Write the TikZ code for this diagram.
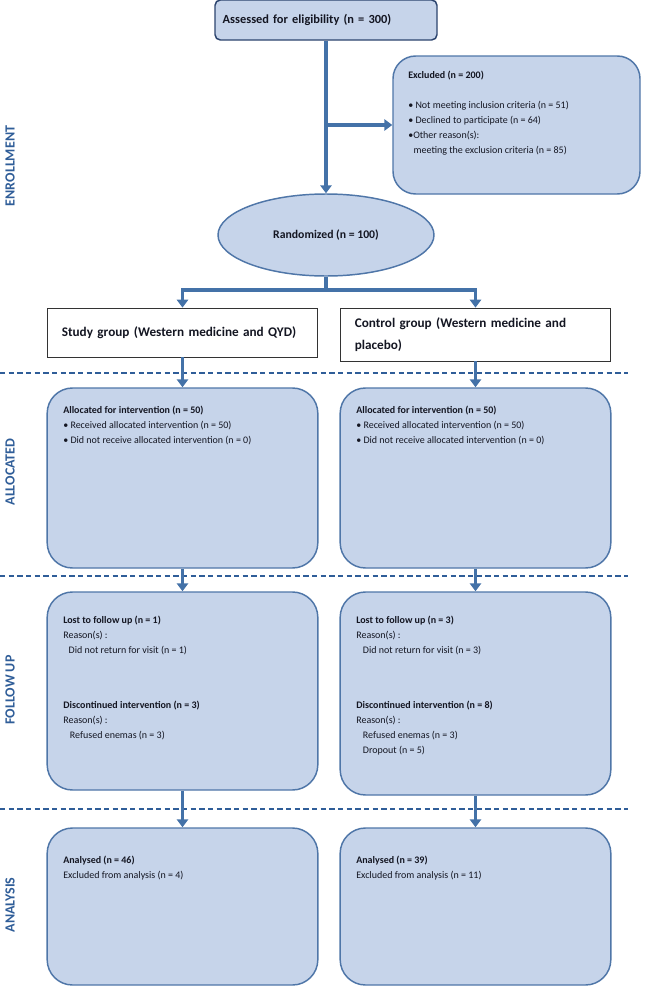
\documentclass[tikz,border=0pt]{standalone}
\usepackage{fontspec}
\setmainfont{Carlito}
\usetikzlibrary{arrows.meta,shapes.geometric}
\definecolor{boxfill}{RGB}{198,212,234}
\definecolor{boxdraw}{RGB}{79,118,168}
\definecolor{topdraw}{RGB}{44,68,110}
\definecolor{arrowblue}{RGB}{68,114,168}
\definecolor{labelblue}{RGB}{47,93,152}
\definecolor{inktext}{RGB}{20,22,34}
\tikzset{
  phasebox/.style={draw=boxdraw, fill=boxfill, line width=1.1pt, rounded corners=19pt, minimum width=203pt, inner sep=0pt},
  groupbox/.style={draw=black!80, fill=white, line width=0.6pt, minimum width=203pt, text width=181pt, inner xsep=11pt, align=left, text=inktext, font=\fontsize{9.9}{17}\selectfont\bfseries},
  boxtext/.style={anchor=north west, align=left, inner sep=0pt, text=inktext, font=\fontsize{7.5}{11.25}\selectfont},
  flowline/.style={draw=arrowblue, line width=2.4pt},
  flowarrow/.style={flowline, -{Triangle[width=8.5pt,length=6pt]}},
  sepline/.style={draw=labelblue, line width=0.8pt, dash pattern=on 4pt off 2.5pt},
  phaselabel/.style={rotate=90, text=labelblue, font=\fontsize{10.5}{12}\selectfont\bfseries}
}
\begin{document}
\begin{tikzpicture}[x=0.75pt,y=0.75pt,yscale=-1,xscale=1]
\useasboundingbox (0,0) rectangle (645,992);

%Phase labels
\node[phaselabel] (lenrol) at (10,166) {ENROLLMENT};
\node[phaselabel] (lalloc) at (10,472) {ALLOCATED};
\node[phaselabel] (lfollow) at (10,690) {FOLLOW UP};
\node[phaselabel] (lanal) at (10,905) {ANALYSIS};

%Separators
\draw[sepline] (0,373) -- (628,373);
\draw[sepline] (0,576) -- (628,576);
\draw[sepline] (0,809) -- (628,809);

%Enrollment
\node[draw=topdraw, fill=boxfill, line width=1.1pt, rounded corners=4pt, minimum width=166.5pt, minimum height=30pt, text width=155pt, inner xsep=5.5pt, align=left, text=inktext, font=\fontsize{9.3}{10}\selectfont\bfseries] (assess) at (326,20) {Assessed for eligibility (n = 300)};
\node[phasebox, minimum width=185.25pt, minimum height=103.5pt, rounded corners=17pt] (excl) at (516.5,125) {};
\node[boxtext] (exclt) at (408,71) {\textbf{Excluded (n = 200)}\\[11pt]
  • Not meeting inclusion criteria (n = 51)\\
  • Declined to participate (n = 64)\\
  •Other reason(s):\\
  \hspace*{4pt}meeting the exclusion criteria (n = 85)};
\node[ellipse, draw=boxdraw, fill=boxfill, line width=1.1pt, minimum width=162pt, minimum height=61.5pt, text=inktext, font=\fontsize{8.8}{10}\selectfont\bfseries] (rand) at (326,235) {Randomized (n = 100)};

\coordinate (split) at (326,125);
\coordinate (fork) at (326,290);
\draw[flowarrow] (assess) -- (rand);
\draw[flowarrow] (split) -- (excl);
\draw[flowline] (rand) -- (fork);

%Groups
\node[groupbox, minimum height=36.75pt] (study) at (182.5,332.5) {Study group (Western medicine and QYD)};
\node[groupbox, minimum height=39.75pt] (control) at (475.5,334.5) {Control group (Western medicine and\\ placebo)};
\draw[flowarrow] (fork) -| (study);
\draw[flowarrow] (fork) -| (control);

%Allocated
\node[phasebox, minimum height=135pt] (alloc1) at (182.5,478) {};
\node[phasebox, minimum height=135pt] (alloc2) at (475.5,478) {};
\node[boxtext] (alloc1t) at (63,406) {\textbf{Allocated for intervention (n = 50)}\\
  • Received allocated intervention (n = 50)\\
  • Did not receive allocated intervention (n = 0)};
\node[boxtext] (alloc2t) at (356,406) {\textbf{Allocated for intervention (n = 50)}\\
  • Received allocated intervention (n = 50)\\
  • Did not receive allocated intervention (n = 0)};
\draw[flowarrow] (study) -- (alloc1);
\draw[flowarrow] (control) -- (alloc2);

%Follow up
\node[phasebox, minimum height=148.5pt] (follow1) at (182.5,691) {};
\node[phasebox, minimum height=152.25pt] (follow2) at (475.5,693.5) {};
\node[boxtext] (follow1t) at (63,616) {\textbf{Lost to follow up (n = 1)}\\
  Reason(s) :\\
  \hspace*{4pt}Did not return for visit (n = 1)\\[30pt]
  \textbf{Discontinued intervention (n = 3)}\\
  Reason(s) :\\
  \hspace*{5pt}Refused enemas (n = 3)};
\node[boxtext] (follow2t) at (356,616) {\textbf{Lost to follow up (n = 3)}\\
  Reason(s) :\\
  \hspace*{5pt}Did not return for visit (n = 3)\\[30pt]
  \textbf{Discontinued intervention (n = 8)}\\
  Reason(s) :\\
  \hspace*{5pt}Refused enemas (n = 3)\\
  \hspace*{5pt}Dropout (n = 5)};
\draw[flowarrow] (alloc1) -- (follow1);
\draw[flowarrow] (alloc2) -- (follow2);

%Analysis
\node[phasebox, minimum height=117.75pt] (anal1) at (182.5,906.5) {};
\node[phasebox, minimum height=117.75pt] (anal2) at (475.5,906.5) {};
\node[boxtext] (anal1t) at (63,856) {\textbf{Analysed (n = 46)}\\
  Excluded from analysis (n = 4)};
\node[boxtext] (anal2t) at (356,856) {\textbf{Analysed (n = 39)}\\
  Excluded from analysis (n = 11)};
\draw[flowarrow] (follow1) -- (anal1);
\draw[flowarrow] (follow2) -- (anal2);
\end{tikzpicture}
\end{document}
